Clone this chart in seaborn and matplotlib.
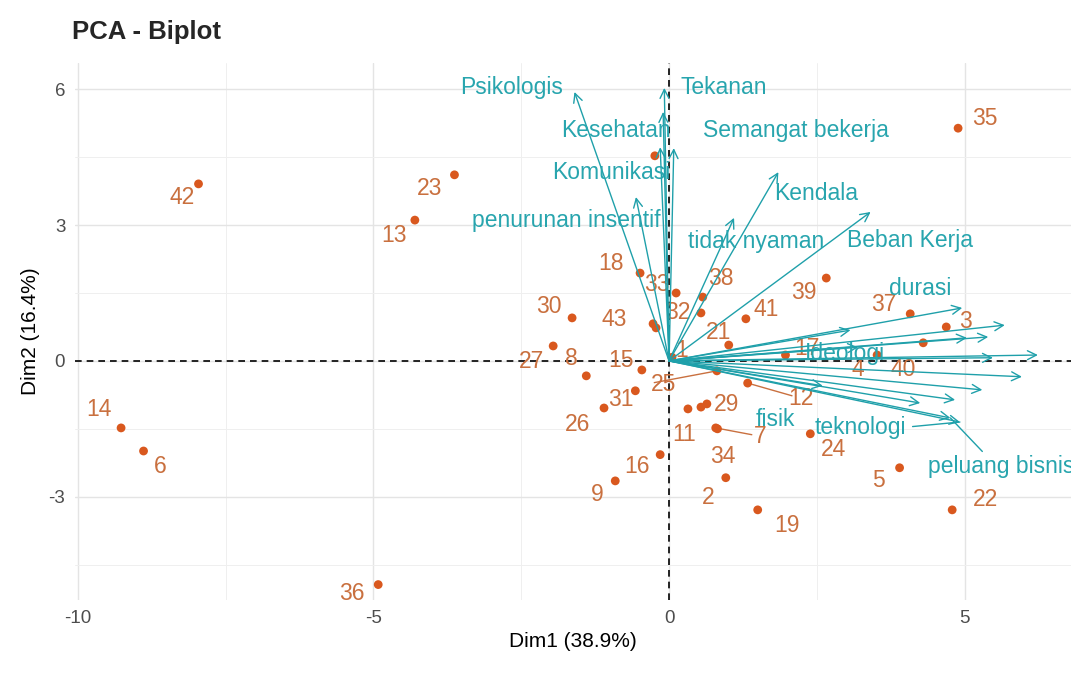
import matplotlib
matplotlib.use("Agg")
import matplotlib.pyplot as plt
import seaborn as sns
import pandas as pd
import numpy as np
from matplotlib.ticker import MultipleLocator

# ---------------- data ----------------
ind_ids = ["1", "2", "3", "4", "5", "6", "7", "8", "9", "10", "11", "12", "13", "14",
           "15", "16", "17", "18", "19", "20", "21", "22", "23", "24", "25", "26", "27",
           "28", "29", "30", "31", "32", "33", "34", "35", "36", "37", "38", "39", "40",
           "41", "42", "43"]
ind_dim1 = [0.05, 0.96, 4.69, 3.52, 3.90, -8.89, 0.79, -1.40, -0.91, -0.22, 0.32, 1.33,
            -4.30, -9.27, -0.46, -0.15, 1.97, -0.49, 1.50, 0.54, 1.01, 4.79, -3.63, 2.39,
            0.81, -1.10, -1.96, -0.24, 0.64, -1.64, -0.57, 0.54, 0.12, 0.82, 4.89, -4.92,
            4.08, 0.57, 2.66, 4.30, 1.30, -7.96, -0.27]
ind_dim2 = [0.08, -2.58, 0.75, 0.13, -2.36, -1.99, -1.48, -0.33, -2.65, 0.73, -1.06, -0.49,
            3.11, -1.48, -0.20, -2.07, 0.13, 1.94, -3.29, -1.02, 0.35, -3.29, 4.11, -1.61,
            -0.22, -1.04, 0.33, 4.53, -0.95, 0.95, -0.66, 1.06, 1.50, -1.50, 5.14, -4.94,
            1.04, 1.41, 1.83, 0.40, 0.93, 3.91, 0.82]

var_names = ["Psikologis", "Tekanan", "Kesehatan", "Semangat bekerja", "Komunikasi",
             "penurunan insentif", "tidak nyaman", "Kendala", "Beban Kerja", "durasi",
             "V11", "V12", "V13", "V14", "V15", "V16", "V17", "V18", "V19", "V20",
             "Ideologi", "fisik", "teknologi", "peluang bisnis"]
var_dim1 = [-1.60, -0.08, -0.10, 0.08, -0.15, -0.56, 1.10, 1.85, 3.41, 4.96,
            5.68, 5.40, 5.04, 3.07, 6.24, 5.48, 5.97, 5.30, 4.84, 4.25,
            3.20, 2.60, 4.92, 4.76]
var_dim2 = [5.94, 6.03, 5.50, 4.70, 4.72, 3.62, 3.16, 4.17, 3.29, 1.17,
            0.79, 0.53, 0.51, 0.68, 0.13, 0.07, -0.35, -0.64, -0.86, -0.93,
            0.30, -0.55, -1.35, -1.26]

x_label = "Dim1 (38.9%)"
y_label = "Dim2 (16.4%)"
title = "PCA - Biplot"

# ---------------- layout (label placements) ----------------
ind_label_pos = {
    "1": (0.22, 0.22), "2": (0.67, -3.02), "3": (5.02, 0.86), "4": (3.19, -0.20),
    "5": (3.54, -2.65), "6": (-8.60, -2.34), "7": (1.55, -1.68), "8": (-1.65, 0.05),
    "9": (-1.21, -2.96), "11": (0.25, -1.63), "12": (2.23, -0.82), "13": (-4.65, 2.78),
    "14": (-9.65, -1.08), "15": (-0.81, 0.02), "16": (-0.54, -2.34), "17": (2.33, 0.27),
    "18": (-0.98, 2.16), "19": (1.99, -3.64), "21": (0.84, 0.62), "22": (5.35, -3.07),
    "23": (-4.05, 3.80), "24": (2.78, -1.96), "25": (-0.10, -0.53), "26": (-1.55, -1.41),
    "27": (-2.33, -0.02), "29": (0.98, -0.97), "30": (-2.04, 1.21), "31": (-0.81, -0.86),
    "32": (0.15, 1.06), "33": (-0.20, 1.68), "34": (0.91, -2.12), "35": (5.35, 5.36),
    "36": (-5.36, -5.14), "37": (3.63, 1.24), "38": (0.88, 1.83), "39": (2.28, 1.52),
    "40": (3.96, -0.20), "41": (1.65, 1.13), "42": (-8.23, 3.60), "43": (-0.93, 0.91),
}
ind_segments = {"7", "12", "25"}

var_label_pos = {
    "Psikologis": (-2.66, 6.03), "Tekanan": (0.93, 6.03), "Kesehatan": (-0.89, 5.10),
    "Semangat bekerja": (2.14, 5.10), "Komunikasi": (-0.98, 4.17),
    "penurunan insentif": (-1.74, 3.11), "tidak nyaman": (1.47, 2.63),
    "Kendala": (2.48, 3.69), "Beban Kerja": (4.08, 2.67), "durasi": (4.25, 1.61),
    "Ideologi": (2.98, 0.16), "fisik": (1.80, -1.30), "teknologi": (3.24, -1.48),
    "peluang bisnis": (5.62, -2.34),
}
var_segments = {"teknologi": (4.12, -1.45), "peluang bisnis": (5.30, -2.00)}

ind_df = pd.DataFrame({"id": ind_ids, "Dim1": ind_dim1, "Dim2": ind_dim2})
var_df = pd.DataFrame({"name": var_names, "Dim1": var_dim1, "Dim2": var_dim2})

# ---------------- style ----------------
sns.set_theme(style="white")
plt.rcParams["font.family"] = ["Liberation Sans", "DejaVu Sans"]
plt.rcParams["axes.unicode_minus"] = False

PT_COL = "#D9581E"
PT_TXT = "#C9703F"
VAR_COL = "#1FA0AA"
VAR_TXT = "#28A5AE"
LBL_FS = 16.5

fig = plt.figure(figsize=(10.71, 6.81), dpi=100)
ax = fig.add_axes([0.070, 0.119, 0.930, 0.7885])

ax.set_xlim(-10.05, 6.80)
ax.set_ylim(-5.28, 6.58)

ax.xaxis.set_major_locator(MultipleLocator(5))
ax.xaxis.set_minor_locator(MultipleLocator(2.5))
ax.yaxis.set_major_locator(MultipleLocator(3))
ax.yaxis.set_minor_locator(MultipleLocator(1.5))
ax.grid(which="major", color="#E4E4E4", lw=1.0)
ax.grid(which="minor", color="#EFEFEF", lw=0.7)
ax.set_axisbelow(True)
for s in ax.spines.values():
    s.set_visible(False)
ax.tick_params(axis="both", which="major", length=4, width=1.2, color="#333333",
               labelsize=13.5, labelcolor="#4D4D4D", pad=3)
ax.tick_params(axis="both", which="minor", length=0)

# reference lines
ax.axhline(0, color="black", lw=1.2, ls=(0, (4, 3)), zorder=1)
ax.axvline(0, color="black", lw=1.2, ls=(0, (4, 3)), zorder=1)

# individuals
sns.scatterplot(data=ind_df, x="Dim1", y="Dim2", ax=ax, color=PT_COL, s=40,
                edgecolor="none", zorder=3, legend=False)

for _, r in ind_df.iterrows():
    if r["id"] in ind_label_pos:
        lx, ly = ind_label_pos[r["id"]]
        if r["id"] in ind_segments:
            ax.plot([r["Dim1"], lx - 0.15], [r["Dim2"], ly + 0.05], color=PT_TXT, lw=1, zorder=2)
        ax.text(lx, ly, r["id"], color=PT_TXT, fontsize=LBL_FS, ha="center", va="center", zorder=4)

# variables
for _, r in var_df.iterrows():
    ax.annotate("", xy=(r["Dim1"], r["Dim2"]), xytext=(0, 0),
                arrowprops=dict(arrowstyle="->", color=VAR_COL, lw=1.0,
                                mutation_scale=16, shrinkA=0, shrinkB=0),
                zorder=5)
for _, r in var_df.iterrows():
    if r["name"] in var_label_pos:
        lx, ly = var_label_pos[r["name"]]
        if r["name"] in var_segments:
            sx, sy = var_segments[r["name"]]
            ax.plot([r["Dim1"], sx], [r["Dim2"], sy], color=VAR_COL, lw=1, zorder=5)
        ax.text(lx, ly, r["name"], color=VAR_TXT, fontsize=LBL_FS, ha="center", va="center", zorder=6)

ax.set_xlabel(x_label, fontsize=15, color="black", labelpad=4)
ax.set_ylabel(y_label, fontsize=15, color="black", labelpad=6)
fig.text(0.067, 0.953, title, fontsize=18.5, fontweight="bold", ha="left", va="center")

fig.savefig("out.png", dpi=100)
